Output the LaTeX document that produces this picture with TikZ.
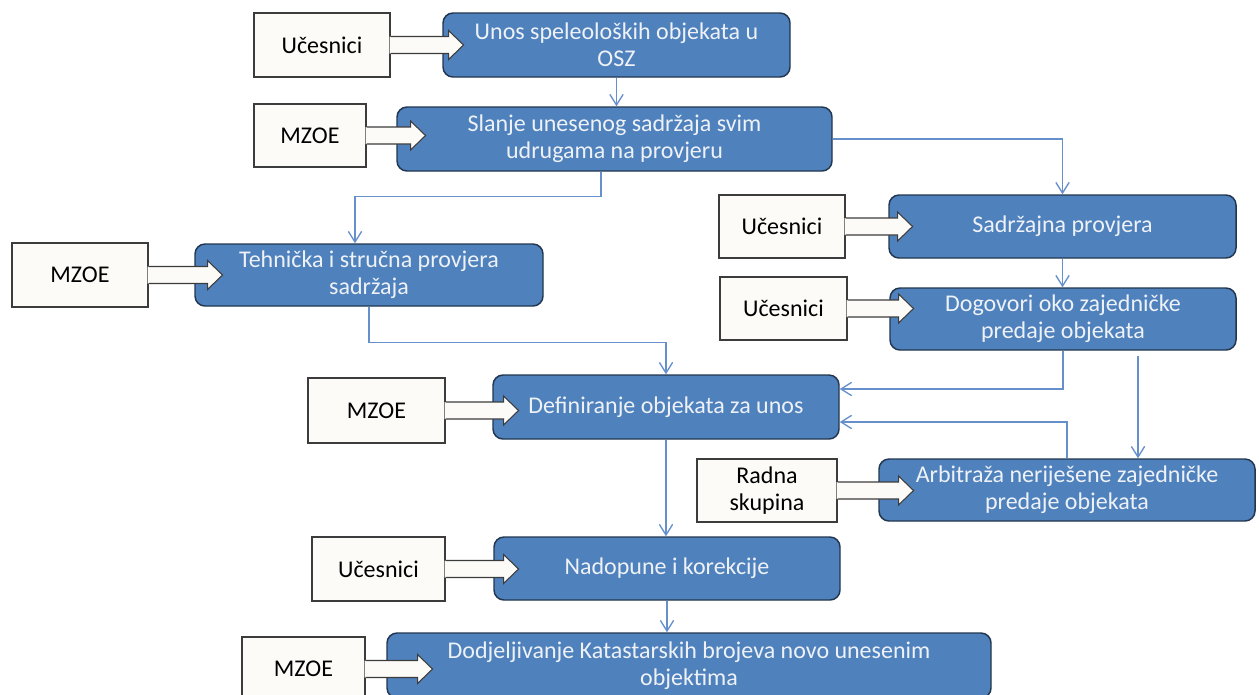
\documentclass[tikz,border=0pt]{standalone}
\usepackage{fontspec}
\setmainfont{Carlito}
\usetikzlibrary{arrows.meta,calc}
\definecolor{bfill}{HTML}{4F81BD}
\definecolor{bline}{HTML}{22374F}
\definecolor{btext}{HTML}{EEF2F7}
\definecolor{wfill}{HTML}{FCFBF8}
\definecolor{wline}{HTML}{3C3C3C}
\definecolor{connc}{HTML}{6690CC}
\tikzset{
  bluebox/.style={draw=bline, line width=1.1pt, fill=bfill, rounded corners=7.5pt, text=btext, align=center, inner sep=0pt, font=\fontsize{18}{20.5}\selectfont},
  whitebox/.style={draw=wline, line width=0.8pt, fill=wfill, text=black, align=center, inner sep=0pt, font=\fontsize{18}{20.5}\selectfont},
  connector/.style={draw=connc, line width=1pt, -{Straight Barb[length=8pt,width=10pt]}},
  blockline/.style={draw=wline, line width=0.8pt, line join=miter},
}
\newcommand{\blockarrow}[2]{%
  \fill[wfill] ($(#1.east)+(-1,-8.5)$) -- ++(#2+1,0) -- ++(0,-6) -- ++(15,14.5) -- ++(-15,14.5) -- ++(0,-6) -- ++(-#2-1,0) -- cycle;
  \draw[blockline] ($(#1.east)+(0,-8.5)$) -- ++(#2,0) -- ++(0,-6) -- ++(15,14.5) -- ++(-15,14.5) -- ++(0,-6) -- ++(-#2,0);
}
\begin{document}
\begin{tikzpicture}[x=0.75pt,y=-0.75pt]
\useasboundingbox (0,0) rectangle (1259,694);
\fill[white] (0,0) rectangle (1259,694);

% blue process boxes
\node[bluebox, minimum width=347*0.75pt, minimum height=64*0.75pt] (B1) at (616.5,45) {Unos speleoloških objekata u\\OSZ};
\node[bluebox, minimum width=435*0.75pt, minimum height=64*0.75pt] (B2) at (614.5,139) {Slanje unesenog sadržaja svim\\udrugama na provjeru};
\node[bluebox, minimum width=348*0.75pt, minimum height=62*0.75pt] (B3) at (369,275) {Tehnička i stručna provjera\\sadržaja};
\node[bluebox, minimum width=347*0.75pt, minimum height=63*0.75pt] (B4) at (1062.5,226.5) {Sadržajna provjera};
\node[bluebox, minimum width=346*0.75pt, minimum height=62*0.75pt] (B5) at (1063,319) {Dogovori oko zajedničke\\predaje objekata};
\node[bluebox, minimum width=346*0.75pt, minimum height=64*0.75pt] (B6) at (666,407) {Definiranje objekata za unos};
\node[bluebox, minimum width=376*0.75pt, minimum height=62*0.75pt] (B7) at (1067,490) {Arbitraža neriješene zajedničke\\predaje objekata};
\node[bluebox, minimum width=346*0.75pt, minimum height=63*0.75pt] (B8) at (667,568.5) {Nadopune i korekcije};
\node[bluebox, minimum width=604*0.75pt, minimum height=65*0.75pt] (B9) at (689,665.5) {Dodjeljivanje Katastarskih brojeva novo unesenim\\objektima};

% white actor boxes
\node[whitebox, minimum width=136*0.75pt, minimum height=64*0.75pt] (W1) at (322,45) {Učesnici};
\node[whitebox, minimum width=112*0.75pt, minimum height=63*0.75pt] (W2) at (310,135.5) {MZOE};
\node[whitebox, minimum width=136*0.75pt, minimum height=64*0.75pt] (W3) at (80,275) {MZOE};
\node[whitebox, minimum width=126*0.75pt, minimum height=63*0.75pt] (W4) at (782,226.5) {Učesnici};
\node[whitebox, minimum width=127*0.75pt, minimum height=63*0.75pt] (W5) at (783.5,308.5) {Učesnici};
\node[whitebox, minimum width=137*0.75pt, minimum height=65*0.75pt] (W6) at (376.5,410.5) {MZOE};
\node[whitebox, minimum width=140*0.75pt, minimum height=63*0.75pt] (W7) at (767,490.5) {Radna\\skupina};
\node[whitebox, minimum width=133*0.75pt, minimum height=64*0.75pt] (W8) at (378.5,569) {Učesnici};
\node[whitebox, minimum width=123*0.75pt, minimum height=64*0.75pt] (W9) at (303.5,669) {MZOE};

% block arrows
\blockarrow{W1}{58}
\blockarrow{W2}{44}
\blockarrow{W3}{59}
\blockarrow{W4}{52}
\blockarrow{W5}{51}
\blockarrow{W6}{58}
\blockarrow{W7}{61}
\blockarrow{W8}{58}
\blockarrow{W9}{52}

% connectors
\draw[connector] (B1.south) -- (B1.south |- B2.north);
\draw[connector] (B2.east) -| (B4.north);
\draw[connector] ($(B2.south)+(-13.5,0)$) -- ++(0,25) -| ($(B3.north)+(-14,0)$);
\draw[connector] (B3.south) -- ++(0,36) -| (B6.north);
\draw[connector] (B4.south) -- (B4.south |- B5.north);
\draw[connector] (B5.south) |- ($(B6.east)+(0,-18)$);
\coordinate (c7) at ($(B5.south)+(75,5)$);
\draw[connector] (c7) -- (c7 |- B7.north);
\draw[connector] (B7.north) |- ($(B6.east)+(0,15)$);
\draw[connector] (B6.south) -- (B6.south |- B8.north);
\draw[connector] (B8.south) -- (B8.south |- B9.north);
\end{tikzpicture}
\end{document}
